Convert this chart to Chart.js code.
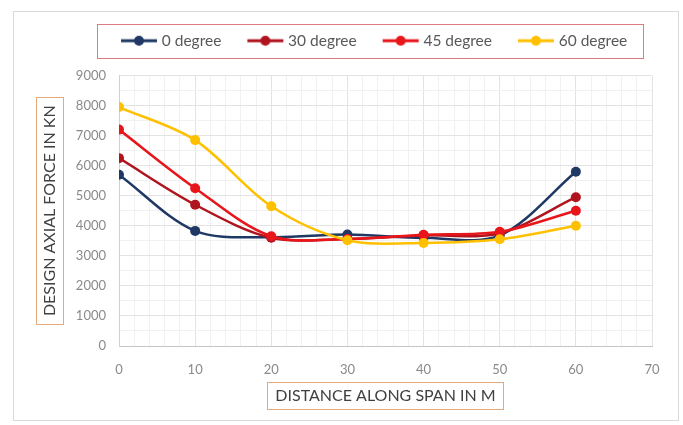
<!DOCTYPE html>
<html>
<head>
<meta charset="utf-8">
<script src="https://cdn.jsdelivr.net/npm/chart.js@4.4.1/dist/chart.umd.min.js"></script>
<style>
  html, body { margin: 0; padding: 0; background: #ffffff; }
  #wrap { width: 683px; height: 425px; position: relative; }
</style>
</head>
<body>
<div id="wrap"><canvas id="chart" width="683" height="425"></canvas></div>
<script>
// Distance along the span (m) at which the axial force was computed
const distances = [0, 10, 20, 30, 40, 50, 60];

// Design axial force (kN) for each skew angle
const force0deg  = [5700, 3830, 3620, 3710, 3600, 3680, 5800];
const force30deg = [6250, 4700, 3600, 3560, 3680, 3750, 4950];
const force45deg = [7200, 5250, 3650, 3560, 3700, 3800, 4500];
const force60deg = [7950, 6850, 4650, 3520, 3430, 3550, 4000];

const seriesNames  = ['0 degree', '30 degree', '45 degree', '60 degree'];
const seriesColors = ['#1F3864', '#B0141E', '#E8161B', '#FFC000'];

// Axis ranges and labelled tick spacing
const xMax = 70, xMajor = 10, xMinor = 2;
const yMax = 9000, yMajor = 1000, yMinor = 500;

const xTitle = 'DISTANCE ALONG SPAN IN M';
const yTitle = 'DESIGN AXIAL FORCE IN KN';

const FONT = "Lato, 'Liberation Sans', sans-serif";
const TICK_COLOR = '#8a8a8a';
const GRID_MAJOR = '#e3e3e3';
const GRID_MINOR = '#f1f1f1';

// Left edge of the first legend entry
const LEGEND_START = 124;

function toPoints(values) {
  return distances.map((d, i) => ({ x: d, y: values[i] }));
}

// Legend marker: a short line with a dot in the middle
function legendMarker(color) {
  const c = document.createElement('canvas');
  c.width = 38; c.height = 12;
  const g = c.getContext('2d');
  g.strokeStyle = color; g.lineWidth = 3;
  g.beginPath(); g.moveTo(1, 6); g.lineTo(37, 6); g.stroke();
  g.fillStyle = color;
  g.beginPath(); g.arc(19, 6, 5, 0, Math.PI * 2); g.fill();
  return c;
}
const markers = seriesColors.map(legendMarker);

const seriesValues = [force0deg, force30deg, force45deg, force60deg];
const datasets = seriesValues.map((vals, i) => ({
  label: seriesNames[i],
  data: toPoints(vals),
  borderColor: seriesColors[i],
  backgroundColor: seriesColors[i],
  borderWidth: 2.5,
  pointRadius: 5,
  pointBorderWidth: 0,
  pointBackgroundColor: seriesColors[i],
  tension: 0.32,
  order: seriesValues.length - i
}));

// Frames: outer chart border, legend box and the two axis title boxes
const framePlugin = {
  id: 'frames',
  afterLayout(chart) {
    // slide the legend row so it sits over the plot area
    const lg = chart.legend;
    if (!lg || !lg.lineWidths) return;
    const pad = lg.options.labels.padding;
    const start = (lg.left + pad + lg.right - lg.lineWidths[0]) / 2;
    const shift = LEGEND_START - start;
    lg.left += shift;
    lg.right += shift;
  },
  beforeDraw(chart) {
    const ctx = chart.ctx;
    ctx.save();
    ctx.strokeStyle = '#d9d9d9';
    ctx.lineWidth = 1;
    ctx.strokeRect(13.5, 11.5, 665, 409);
    ctx.restore();
  },
  afterDraw(chart) {
    const ctx = chart.ctx;
    ctx.save();
    // legend box
    const hb = chart.legend.legendHitBoxes;
    if (hb && hb.length) {
      const first = hb[0], last = hb[hb.length - 1];
      const cy = first.top + 7.5;
      const l = first.left - 27, r = last.left + last.width + 16;
      ctx.strokeStyle = '#dc7b80';
      ctx.lineWidth = 1;
      ctx.strokeRect(Math.round(l) + 0.5, Math.round(cy - 17) + 0.5, Math.round(r - l), 34);
    }
    // axis title boxes
    ctx.strokeStyle = '#e2a97c';
    ctx.lineWidth = 1;
    const ys = chart.scales.y, xs = chart.scales.x;
    const yt = ys.options.title, xt = xs.options.title;
    const yf = Chart.helpers.toFont(yt.font), xf = Chart.helpers.toFont(xt.font);
    ctx.font = yf.string;
    const yw = ctx.measureText(yt.text).width;
    const ycx = ys.left + yt.padding.top + yf.lineHeight / 2;
    const ycy = (ys.top + ys.bottom) / 2;
    ctx.strokeRect(Math.round(ycx - 13.5) + 0.5, Math.round(ycy - yw / 2 - 8) + 0.5, 27, Math.round(yw + 16));
    ctx.font = xf.string;
    const xw = ctx.measureText(xt.text).width;
    const xcx = (xs.left + xs.right) / 2;
    const xcy = xs.bottom - xt.padding.bottom - xf.lineHeight / 2;
    ctx.strokeRect(Math.round(xcx - xw / 2 - 8) + 0.5, Math.round(xcy - 13.5) + 0.5, Math.round(xw + 16), 27);
    ctx.restore();
  }
};

new Chart(document.getElementById('chart'), {
  type: 'line',
  data: { datasets },
  options: {
    responsive: false,
    animation: false,
    devicePixelRatio: 1,
    layout: { padding: { top: 4, left: 0, right: 31, bottom: 0 } },
    plugins: {
      tooltip: { enabled: false },
      // spacer between the legend and the plotting area
      title: { display: true, text: '', weight: 500, font: { size: 10 }, padding: { top: 5, bottom: 0 } },
      legend: {
        position: 'top',
        labels: {
          usePointStyle: true,
          pointStyleWidth: 30,
          padding: 29,
          color: '#595959',
          font: { family: FONT, size: 15.5 },
          generateLabels(chart) {
            return chart.data.datasets.map((ds, i) => ({
              text: ds.label,
              datasetIndex: i,
              pointStyle: markers[i],
              fillStyle: ds.borderColor,
              strokeStyle: ds.borderColor,
              lineWidth: 0,
              fontColor: '#595959',
              hidden: !chart.isDatasetVisible(i)
            }));
          }
        }
      }
    },
    scales: {
      x: {
        type: 'linear',
        min: 0,
        max: xMax,
        afterFit(s) { s.height = 79; },
        ticks: {
          stepSize: xMinor,
          autoSkip: false,
          maxRotation: 0,
          padding: 16,
          color: TICK_COLOR,
          font: { family: FONT, size: 13 },
          callback: v => (v % xMajor === 0 ? String(v) : '')
        },
        grid: {
          drawTicks: false,
          color: c => (c.tick && c.tick.value % xMajor === 0 ? GRID_MAJOR : GRID_MINOR)
        },
        border: { color: '#c4c4c4' },
        title: {
          display: true,
          text: xTitle,
          color: '#404040',
          font: { family: FONT, size: 16 },
          padding: { top: 0, bottom: 20 }
        }
      },
      y: {
        min: 0,
        max: yMax,
        afterFit(s) { s.width = 119; },
        ticks: {
          stepSize: yMinor,
          autoSkip: false,
          padding: 13,
          color: TICK_COLOR,
          font: { family: FONT, size: 13 },
          callback: v => (v % yMajor === 0 ? String(v) : '')
        },
        grid: {
          drawTicks: false,
          color: c => (c.tick && c.tick.value % yMajor === 0 ? GRID_MAJOR : GRID_MINOR)
        },
        border: { color: '#d0d0d0' },
        title: {
          display: true,
          text: yTitle,
          color: '#404040',
          font: { family: FONT, size: 16 },
          padding: { top: 40, bottom: 0 }
        }
      }
    }
  },
  plugins: [framePlugin]
});
</script>
</body>
</html>
